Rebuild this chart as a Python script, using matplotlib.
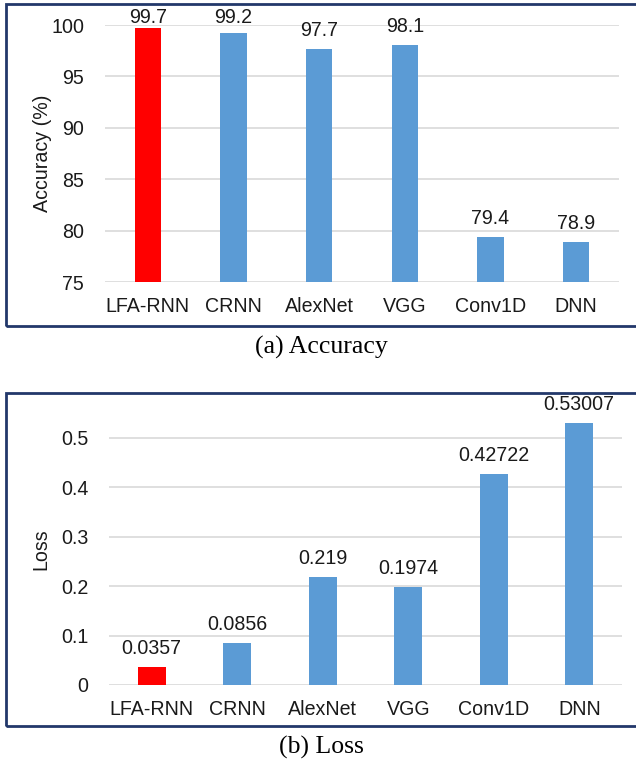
import matplotlib
matplotlib.use("Agg")
import matplotlib.pyplot as plt
from matplotlib.patches import Rectangle

models = ["LFA-RNN", "CRNN", "AlexNet", "VGG", "Conv1D", "DNN"]
accuracy = [99.7, 99.2, 97.7, 98.1, 79.4, 78.9]
accuracy_labels = ["99.7", "99.2", "97.7", "98.1", "79.4", "78.9"]
loss = [0.0357, 0.0856, 0.219, 0.1974, 0.42722, 0.53007]
loss_labels = ["0.0357", "0.0856", "0.219", "0.1974", "0.42722", "0.53007"]
acc_ticks = [75, 80, 85, 90, 95, 100]
loss_ticks = [0, 0.1, 0.2, 0.3, 0.4, 0.5]

W, H = 636, 762
DPI = 100
RED = "#FF0000"
BLUE = "#5B9BD5"
GRID = "#D9D9D9"
FRAME = "#22386A"
TXT = "#1a1a1a"
SANS = "Liberation Sans"
SERIF = "Liberation Serif"
FS = 14.1

fig = plt.figure(figsize=(W / DPI, H / DPI), dpi=DPI)
fig.patch.set_facecolor("white")


def px_axes(left, top, right, bottom):
    return fig.add_axes([left / W, 1 - bottom / H, (right - left) / W, (bottom - top) / H])


def frame(left, top, right, bottom):
    fig.add_artist(Rectangle((left / W, 1 - bottom / H), (right - left) / W, (bottom - top) / H,
                             transform=fig.transFigure, fill=False, edgecolor=FRAME,
                             linewidth=2.0, zorder=0))


def style_axes(ax, ticks, fmt, ylabel, label_x_px, left_px, width_px):
    ax.set_xlim(-0.5, len(models) - 0.5)
    ax.set_yticks(ticks)
    ax.set_yticklabels([fmt(t) for t in ticks], fontsize=FS, family=SANS, color=TXT)
    ax.set_xticks(range(len(models)))
    ax.set_xticklabels(models, fontsize=FS, family=SANS, color=TXT)
    ax.tick_params(axis="both", length=0)
    ax.tick_params(axis="y", pad=15)
    ax.tick_params(axis="x", pad=11)
    ax.grid(axis="y", color=GRID, linewidth=1.2, zorder=0)
    for s in ax.spines.values():
        s.set_visible(False)
    ax.set_ylabel(ylabel, fontsize=FS, family=SANS, color=TXT)
    ax.yaxis.label.set_va("center")
    ax.yaxis.set_label_coords((label_x_px - left_px) / width_px, 0.5)


def value_labels(ax, values, labels, min_top_px):
    # place each value label above its bar, pushed down if it would leave the frame
    for xi, v, lab in zip(range(len(models)), values, labels):
        top_px = H - ax.transData.transform((xi, v))[1]
        gap = min(9, top_px - min_top_px)
        ax.annotate(lab, (xi, v), xytext=(0, gap), textcoords="offset pixels",
                    ha="center", va="bottom", fontsize=FS, family=SANS, color=TXT,
                    annotation_clip=False, zorder=4)


# (a) accuracy
frame(6, 4, 660, 326)
ax1 = px_axes(105, 25, 619, 282)
ax1.set_ylim(75, 100)
ax1.bar(range(len(models)), [a - 75 for a in accuracy], bottom=75, width=0.31,
        color=[RED] + [BLUE] * 5, edgecolor="none", zorder=3)
style_axes(ax1, acc_ticks, lambda t: str(t), "Accuracy (%)", 43, 105, 514)
value_labels(ax1, accuracy, accuracy_labels, 27)
fig.text(321 / W, 1 - 347 / H, "(a) Accuracy", ha="center", va="center",
         fontsize=18.5, family=SERIF, color="black")

# (b) loss
frame(6, 393, 660, 726)
ax2 = px_axes(109, 413, 622, 685)
ax2.set_ylim(0, 0.55)
ax2.bar(range(len(models)), loss, width=0.33, color=[RED] + [BLUE] * 5,
        edgecolor="none", zorder=3)
style_axes(ax2, loss_ticks, lambda t: f"{t:g}", "Loss", 41, 109, 513)
value_labels(ax2, loss, loss_labels, 400)
fig.text(321 / W, 1 - 747 / H, "(b) Loss", ha="center", va="center",
         fontsize=18.5, family=SERIF, color="black")

fig.savefig("out.png", dpi=DPI, facecolor="white")
